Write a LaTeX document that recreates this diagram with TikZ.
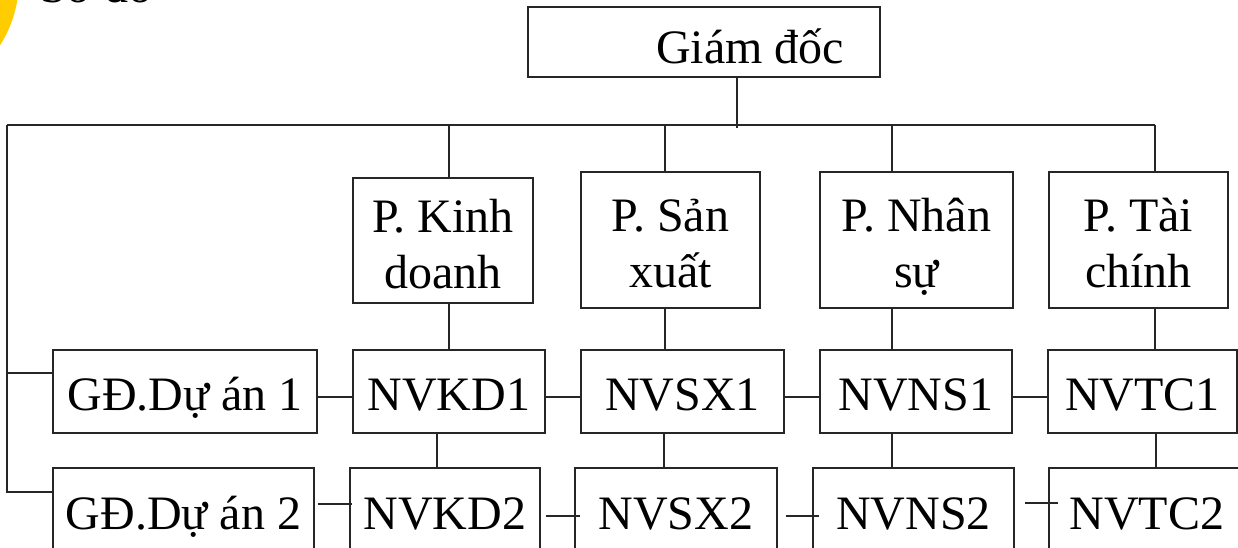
\documentclass[tikz,border=0pt]{standalone}
\usepackage{fontspec}
\setmainfont{Liberation Serif}
\usetikzlibrary{calc}
\newdimen\pxlen
\pxlen=0.75pt

\begin{document}
\begin{tikzpicture}[x=0.75pt, y=-0.75pt,
  every node/.style={inner sep=0pt, font=\fontsize{36}{42}\selectfont},
  wire/.style={draw=black!85, line width=1.1pt},
  box/.style={draw=black!85, line width=1.1pt, inner sep=0pt},
  wh/.style 2 args={minimum width=#1*\pxlen, minimum height=#2*\pxlen},
  headbox/.style={box, text height=33pt, text depth=0pt},
  dept/.style={box, align=center, text height=72pt, text depth=0pt},
  staff/.style={box, text height=29.25pt, text depth=0pt},
]
\useasboundingbox (0,0) rectangle (1238,548);
\clip (0,0) rectangle (1238,548);

% corner decoration and heading
\fill[fill={rgb,255:red,255;green,204;blue,0}] (-103,-20) circle[radius=122];
\node[anchor=base west] (title) at (40,3) {Sơ đồ};

% director
\node[headbox, wh={352}{70}] (gd) at (704,42) {\hspace{69pt}Giám đốc};

% departments
\node[dept, wh={180}{125}] (pkd) at (443,240.5) {P. Kinh\\doanh};
\node[dept, wh={179}{136}] (psx) at (670.5,240) {P. Sản\\xuất};
\node[dept, wh={193}{136}] (pns) at (916.5,240) {P. Nhân\\sự};
\node[dept, wh={179}{136}] (ptc) at (1138.5,240) {P. Tài\\chính};

% project 1 row
\node[staff, wh={264}{83}] (gd1) at (185,391.5) {GĐ.Dự án 1};
\node[staff, wh={192}{83}] (kd1) at (449,391.5) {NVKD1};
\node[staff, wh={203}{83}] (sx1) at (682.5,391.5) {NVSX1};
\node[staff, wh={192}{83}] (ns1) at (916,391.5) {NVNS1};
\node[staff, wh={189}{83}] (tc1) at (1142.5,391.5) {NVTC1};

% project 2 row
\node[staff, wh={261}{83}] (gd2) at (183.5,509.5) {GĐ.Dự án 2};
\node[staff, wh={190}{83}] (kd2) at (445,509.5) {NVKD2};
\node[staff, wh={202}{83}] (sx2) at (676,509.5) {NVSX2};
\node[staff, wh={201}{83}] (ns2) at (913.5,509.5) {NVNS2};
\node[staff, wh={196}{83}] (tc2) at (1147,509.5) {NVTC2};

% main bus
\coordinate (bl) at (7,125);
\coordinate (s1) at (449,125);
\coordinate (s2) at (665,125);
\coordinate (s3) at (892,125);
\coordinate (s4) at (1155,125);
\draw[wire] (bl) -- (s4);
\draw[wire] ([xshift=33*\pxlen]gd.south) -- ++(0,50);

% bus to departments, departments to first row
\foreach \s/\p/\n in {s1/pkd/kd1, s2/psx/sx1, s3/pns/ns1, s4/ptc/tc1} {
  \draw[wire] (\s) -- (\s |- \p.north);
  \draw[wire] (\s |- \p.south) -- (\s |- \n.north);
}

% first row to second row
\coordinate (t1) at (437,0);
\coordinate (t2) at (664,0);
\coordinate (t3) at (892,0);
\coordinate (t4) at (1156,0);
\foreach \t/\a/\b in {t1/kd1/kd2, t2/sx1/sx2, t3/ns1/ns2, t4/tc1/tc2}
  \draw[wire] (\t |- \a.south) -- (\t |- \b.north);

% left feeder to project managers
\coordinate (g1) at ($(gd1.west)+(0,-18.5)$);
\draw[wire] (bl) |- ($(gd2.west)+(0,-17.5)$);
\draw[wire] (bl |- g1) -- (g1);

% links along the first row
\coordinate (r1) at (0,397);
\foreach \a/\b in {gd1/kd1, kd1/sx1, sx1/ns1, ns1/tc1}
  \draw[wire] (\a.east |- r1) -- (\b.west |- r1);

% links along the second row
\draw[wire] ($(gd2.east)+(3,-5.5)$) -- ($(kd2.west)+(3,-5.5)$);
\draw[wire] ($(kd2.east)+(5,6.5)$) -- ($(sx2.west)+(6,6.5)$);
\draw[wire] ($(sx2.east)+(8,6.5)$) -- ($(ns2.west)+(7,6.5)$);
\draw[wire] ($(ns2.east)+(10,-6.5)$) -- ($(tc2.west)+(10,-6.5)$);
\end{tikzpicture}
\end{document}
